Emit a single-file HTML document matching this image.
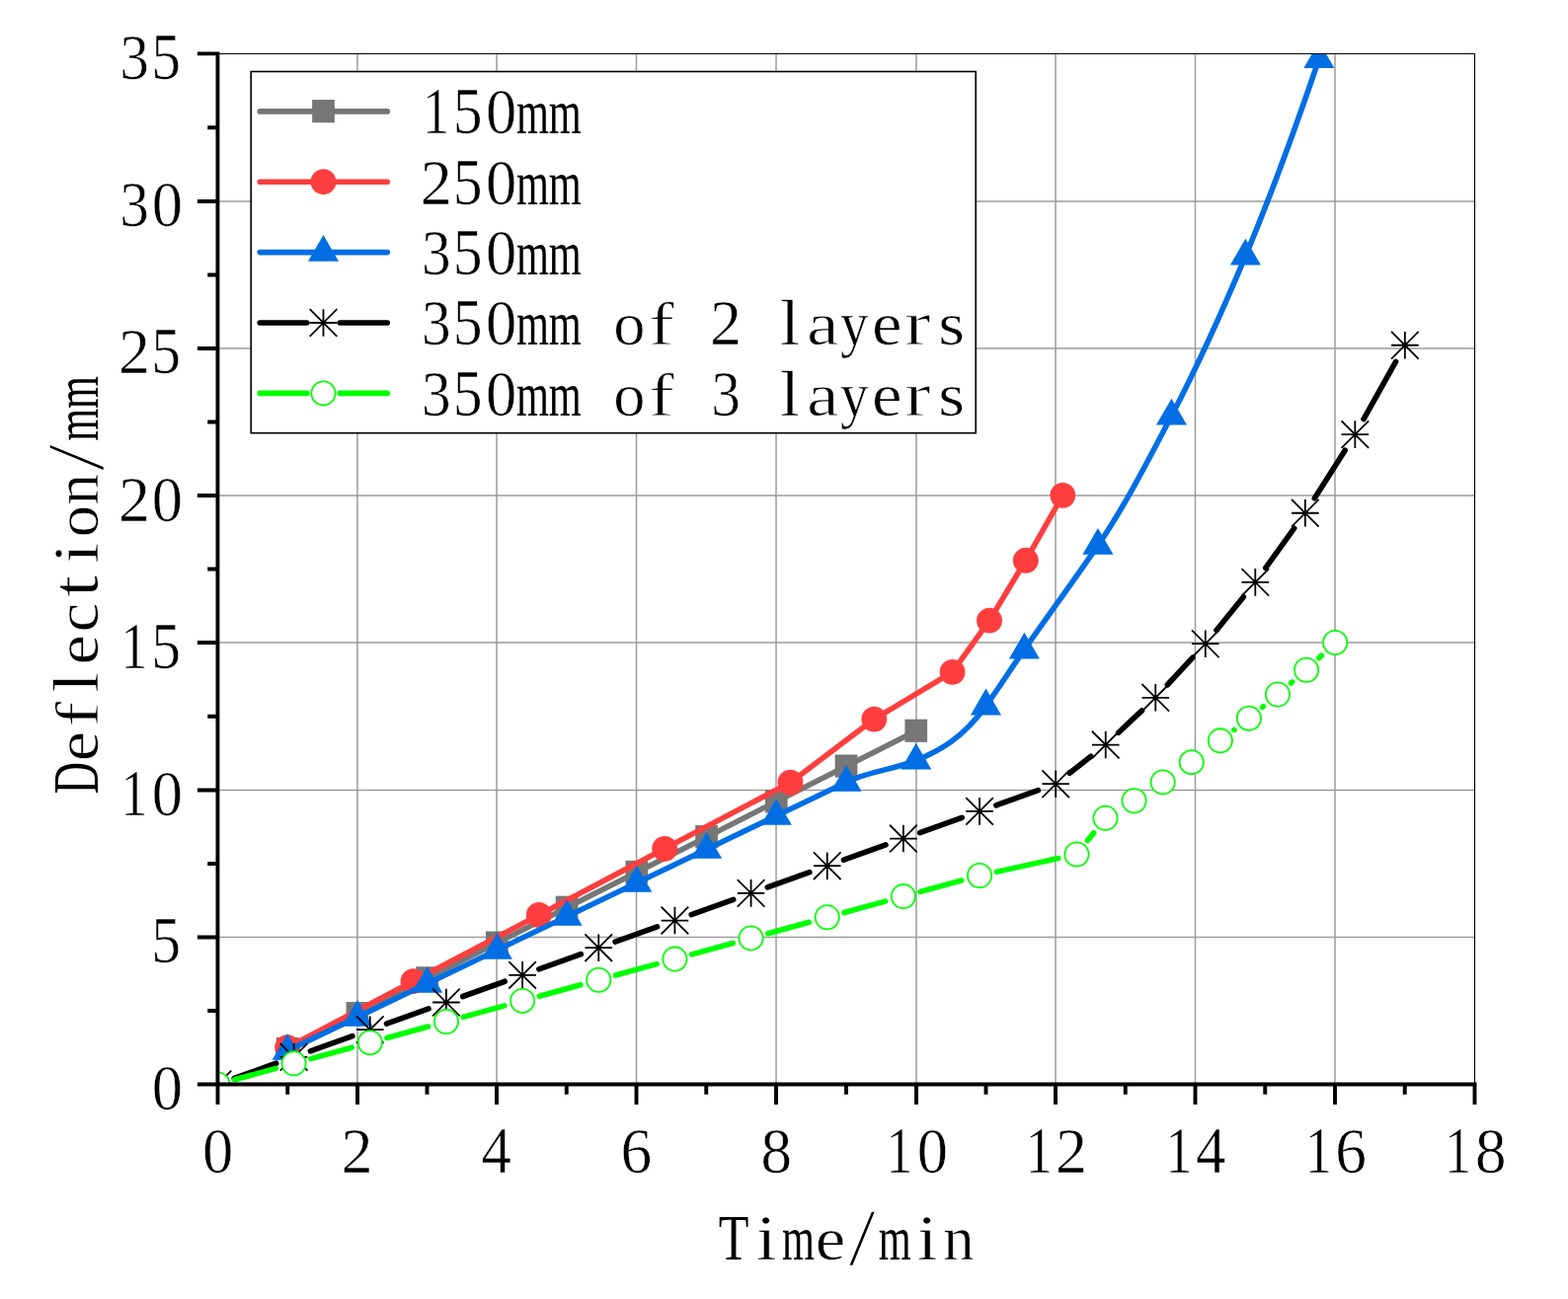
<!DOCTYPE html>
<html lang="en"><head><meta charset="utf-8"><title>Deflection vs Time</title>
<style>html,body{margin:0;padding:0;background:#fff}svg{display:block}text{font-family:"Liberation Serif",serif;fill:#000;stroke:#fff;stroke-width:0.6px;paint-order:fill stroke}</style>
</head><body>
<svg width="1588" height="1316" viewBox="0 0 1588 1316">
<rect width="1588" height="1316" fill="#fff"/>
<defs><clipPath id="plot"><rect x="220.45" y="54.4" width="1273.15" height="1044.1"/></clipPath></defs>
<path d="M362 54.4V1098.5M503 54.4V1098.5M644.5 54.4V1098.5M786 54.4V1098.5M928 54.4V1098.5M1069 54.4V1098.5M1210.5 54.4V1098.5M1352 54.4V1098.5M220.45 949.5H1493.6M220.45 800.5H1493.6M220.45 651H1493.6M220.45 502H1493.6M220.45 353H1493.6M220.45 204H1493.6" stroke="#9c9c9c" stroke-width="1.5" fill="none"/>
<g clip-path="url(#plot)">
<path d="M291.18 1062.7L361.91 1026.9L432.64 991.11L503.37 955.31L574.1 919.51L644.83 883.71L715.56 847.92L786.29 812.12L857.02 776.32L927.76 740.52" stroke="#767676" stroke-width="5.6" fill="none" stroke-linejoin="round" stroke-linecap="round"/>
<g fill="#767676"><rect x="279.83" y="1050.85" width="22.7" height="23.2"/><rect x="350.56" y="1015.05" width="22.7" height="23.2"/><rect x="421.29" y="979.26" width="22.7" height="23.2"/><rect x="492.02" y="943.46" width="22.7" height="23.2"/><rect x="562.75" y="907.66" width="22.7" height="23.2"/><rect x="633.48" y="871.86" width="22.7" height="23.2"/><rect x="704.21" y="836.07" width="22.7" height="23.2"/><rect x="774.94" y="800.27" width="22.7" height="23.2"/><rect x="845.67" y="764.47" width="22.7" height="23.2"/><rect x="916.41" y="728.67" width="22.7" height="23.2"/></g>
<path d="M291.18 1061.21L418.5 994.09L545.81 926.97L673.13 859.85L800.44 792.73L885.32 728.59L964.54 680.86L1002.02 628.66L1038.8 567.8L1076.29 501.87" stroke="#fe3e3e" stroke-width="5.6" fill="none" stroke-linejoin="round" stroke-linecap="round"/>
<g fill="#fe3e3e"><circle cx="291.18" cy="1061.21" r="12.95"/><circle cx="418.5" cy="994.09" r="12.95"/><circle cx="545.81" cy="926.97" r="12.95"/><circle cx="673.13" cy="859.85" r="12.95"/><circle cx="800.44" cy="792.73" r="12.95"/><circle cx="885.32" cy="728.59" r="12.95"/><circle cx="964.54" cy="680.86" r="12.95"/><circle cx="1002.02" cy="628.66" r="12.95"/><circle cx="1038.8" cy="567.8" r="12.95"/><circle cx="1076.29" cy="501.87" r="12.95"/></g>
<path d="M291.18 1064.49C314.76 1053.16 338.33 1041.82 361.91 1030.48C385.49 1019.15 409.06 1007.81 432.64 996.48C456.22 985.14 479.8 973.8 503.37 962.47C526.95 951.13 550.53 939.8 574.1 928.46C597.68 917.12 621.26 905.79 644.83 894.45C668.41 883.12 691.99 871.78 715.56 860.45C739.14 849.11 762.72 837.77 786.29 826.44C809.87 815.1 833.45 803.77 857.02 792.43C880.6 781.09 904.18 779.9 927.76 770.35C951.33 760.81 974.91 748.19 998.49 715.17C1011.45 697 1024.42 676.77 1037.39 658.19C1062.24 622.59 1087.09 588.7 1111.94 552.58C1136.79 516.47 1161.64 469.07 1186.49 421.33C1211.46 373.36 1236.42 318.98 1261.39 259.34C1286.22 200.04 1311.04 132.71 1335.87 59.77" stroke="#026ee4" stroke-width="5.6" fill="none" stroke-linejoin="round" stroke-linecap="round"/>
<path d="M291.18 1046.94L306.73 1073.74L275.63 1073.74ZM361.91 1012.93L377.46 1039.73L346.36 1039.73ZM432.64 978.93L448.19 1005.73L417.09 1005.73ZM503.37 944.92L518.92 971.72L487.82 971.72ZM574.1 910.91L589.65 937.71L558.55 937.71ZM644.83 876.9L660.38 903.7L629.28 903.7ZM715.56 842.9L731.11 869.7L700.01 869.7ZM786.29 808.89L801.84 835.69L770.74 835.69ZM857.02 774.88L872.57 801.68L841.47 801.68ZM927.76 752.8L943.31 779.6L912.21 779.6ZM998.49 697.62L1014.04 724.42L982.94 724.42ZM1037.39 640.64L1052.94 667.44L1021.84 667.44ZM1111.94 535.03L1127.49 561.83L1096.39 561.83ZM1186.49 403.78L1202.04 430.58L1170.94 430.58ZM1261.39 241.79L1276.94 268.59L1245.84 268.59ZM1335.87 42.22L1351.42 69.02L1320.32 69.02Z" fill="#026ee4"/>
<path d="M237.21 1092.49L279.73 1077.25M314.37 1064.83L356.89 1049.59M391.53 1037.17L434.05 1021.93M468.69 1009.51L511.21 994.26M545.85 981.85L588.37 966.6M623.01 954.18L665.53 938.94M700.17 926.52L742.69 911.28M777.33 898.86L819.85 883.62M854.49 871.2L897.01 855.96M931.65 843.54L974.17 828.29M1008.81 815.87L1051.33 800.63M1083.22 783.23L1104.8 766.28M1132.68 742.32L1156.45 719.86M1182.35 693.75L1207.88 666.17M1231.99 638.39L1259.34 604.64M1281.71 575.43L1310.72 535.18M1331.36 504.74L1362.17 456.16M1381.03 424.58L1413.6 366.32" stroke="#000" stroke-width="5.6" fill="none" stroke-linecap="round"/>
<path d="M206.65 1098.5H234.25M220.45 1084.7V1112.3M206.65 1084.7L234.25 1112.3M206.65 1112.3L234.25 1084.7M283.81 1070.84H311.41M297.61 1057.04V1084.64M283.81 1057.04L311.41 1084.64M283.81 1084.64L311.41 1057.04M360.97 1043.18H388.57M374.77 1029.38V1056.98M360.97 1029.38L388.57 1056.98M360.97 1056.98L388.57 1029.38M438.13 1015.51H465.73M451.93 1001.71V1029.31M438.13 1001.71L465.73 1029.31M438.13 1029.31L465.73 1001.71M515.29 987.85H542.89M529.09 974.05V1001.65M515.29 974.05L542.89 1001.65M515.29 1001.65L542.89 974.05M592.45 960.19H620.05M606.25 946.39V973.99M592.45 946.39L620.05 973.99M592.45 973.99L620.05 946.39M669.61 932.53H697.21M683.41 918.73V946.33M669.61 918.73L697.21 946.33M669.61 946.33L697.21 918.73M746.77 904.87H774.37M760.57 891.07V918.67M746.77 891.07L774.37 918.67M746.77 918.67L774.37 891.07M823.93 877.21H851.53M837.73 863.41V891.01M823.93 863.41L851.53 891.01M823.93 891.01L851.53 863.41M901.1 849.54H928.7M914.9 835.74V863.34M901.1 835.74L928.7 863.34M901.1 863.34L928.7 835.74M978.26 821.88H1005.86M992.06 808.08V835.68M978.26 808.08L1005.86 835.68M978.26 835.68L1005.86 808.08M1055.42 794.22H1083.02M1069.22 780.42V808.02M1055.42 780.42L1083.02 808.02M1055.42 808.02L1083.02 780.42M1105.94 754.54H1133.54M1119.74 740.74V768.34M1105.94 740.74L1133.54 768.34M1105.94 768.34L1133.54 740.74M1156.46 706.81H1184.06M1170.26 693.01V720.61M1156.46 693.01L1184.06 720.61M1156.46 720.61L1184.06 693.01M1206.98 652.22H1234.58M1220.78 638.42V666.02M1206.98 638.42L1234.58 666.02M1206.98 666.02L1234.58 638.42M1257.5 589.87H1285.1M1271.3 576.07V603.67M1257.5 576.07L1285.1 603.67M1257.5 603.67L1285.1 576.07M1308.03 519.77H1335.63M1321.83 505.97V533.57M1308.03 505.97L1335.63 533.57M1308.03 533.57L1335.63 505.97M1358.55 440.12H1386.15M1372.35 426.32V453.92M1358.55 426.32L1386.15 453.92M1358.55 453.92L1386.15 426.32M1409.07 349.73H1436.67M1422.87 335.93V363.53M1409.07 335.93L1436.67 363.53M1409.07 363.53L1436.67 335.93" stroke="#000" stroke-width="1.8" fill="none"/>
<path d="M237.62 1093.79L279.29 1082.37M314.78 1072.64L356.45 1061.22M391.94 1051.49L433.61 1040.06M469.1 1030.33L510.77 1018.91M546.26 1009.18L587.93 997.76M623.42 988.03L665.09 976.6M700.58 966.87L742.25 955.45M777.74 945.72L819.41 934.3M854.9 924.57L896.57 913.14M932.06 903.42L973.73 891.99M1009.45 883.18L1071.87 869.56M1101.49 851.57L1107.71 843.71M1249.86 739.42L1249.92 739.38M1278.59 716.32L1279.37 715.68M1307.54 691.99L1308.59 691.09M1335.94 666.48L1338.39 664.14" stroke="#00ff00" stroke-width="5.6" fill="none" stroke-linecap="round"/>
<g fill="#fff" stroke="#00ff00" stroke-width="1.8"><circle cx="220.45" cy="1098.5" r="12.1"/><circle cx="297.61" cy="1077.35" r="12.1"/><circle cx="374.77" cy="1056.19" r="12.1"/><circle cx="451.93" cy="1035.04" r="12.1"/><circle cx="529.09" cy="1013.89" r="12.1"/><circle cx="606.25" cy="992.73" r="12.1"/><circle cx="683.41" cy="971.58" r="12.1"/><circle cx="760.57" cy="950.43" r="12.1"/><circle cx="837.73" cy="929.27" r="12.1"/><circle cx="914.9" cy="908.12" r="12.1"/><circle cx="992.06" cy="886.97" r="12.1"/><circle cx="1090.44" cy="865.52" r="12.1"/><circle cx="1119.51" cy="828.82" r="12.1"/><circle cx="1148.59" cy="811.22" r="12.1"/><circle cx="1177.67" cy="792.43" r="12.1"/><circle cx="1206.75" cy="772.14" r="12.1"/><circle cx="1235.83" cy="750.37" r="12.1"/><circle cx="1264.9" cy="727.7" r="12.1"/><circle cx="1293.98" cy="703.53" r="12.1"/><circle cx="1323.06" cy="678.77" r="12.1"/><circle cx="1352.14" cy="651.03" r="12.1"/></g>
</g>
<path d="M220.45 54.5H1493.5V1098.5" stroke="#000" stroke-width="1.15" fill="none"/>
<path d="M220.45 52.45V1100.45M218.5 1098.5H1495.55M220.5 1098.5V1119M291.25 1098.5V1108.7M362 1098.5V1119M432.5 1098.5V1108.7M503 1098.5V1119M573.75 1098.5V1108.7M644.5 1098.5V1119M715.25 1098.5V1108.7M786 1098.5V1119M857 1098.5V1108.7M928 1098.5V1119M998.5 1098.5V1108.7M1069 1098.5V1119M1139.75 1098.5V1108.7M1210.5 1098.5V1119M1281.25 1098.5V1108.7M1352 1098.5V1119M1422.75 1098.5V1108.7M1493.5 1098.5V1119M220.45 1098.5H199.95M220.45 1024H210.25M220.45 949.5H199.95M220.45 875H210.25M220.45 800.5H199.95M220.45 725.75H210.25M220.45 651H199.95M220.45 576.5H210.25M220.45 502H199.95M220.45 427.5H210.25M220.45 353H199.95M220.45 278.5H210.25M220.45 204H199.95M220.45 129.2H210.25M220.45 54.4H199.95" stroke="#000" stroke-width="3.9" fill="none"/>
<text xml:space="preserve"><tspan x="205.07" y="1187.9" font-size="66.16" textLength="31.26" lengthAdjust="spacingAndGlyphs">0</tspan></text>
<text xml:space="preserve"><tspan x="345.49" y="1187.9" font-size="66.15" textLength="32.05" lengthAdjust="spacingAndGlyphs">2</tspan></text>
<text xml:space="preserve"><tspan x="487.38" y="1187.9" font-size="67.15" textLength="30.44" lengthAdjust="spacingAndGlyphs">4</tspan></text>
<text xml:space="preserve"><tspan x="628.61" y="1187.9" font-size="66.15" textLength="31.71" lengthAdjust="spacingAndGlyphs">6</tspan></text>
<text xml:space="preserve"><tspan x="770.4" y="1187.9" font-size="65.86" textLength="31.5" lengthAdjust="spacingAndGlyphs">8</tspan></text>
<text xml:space="preserve"><tspan x="897.26" y="1187.9" font-size="66.95" textLength="27.27" lengthAdjust="spacingAndGlyphs">1</tspan><tspan x="928.67" y="1187.9" font-size="66.16" textLength="31.26" lengthAdjust="spacingAndGlyphs">0</tspan></text>
<text xml:space="preserve"><tspan x="1038.72" y="1187.9" font-size="66.95" textLength="27.27" lengthAdjust="spacingAndGlyphs">1</tspan><tspan x="1069.1" y="1187.9" font-size="66.15" textLength="32.05" lengthAdjust="spacingAndGlyphs">2</tspan></text>
<text xml:space="preserve"><tspan x="1180.18" y="1187.9" font-size="66.95" textLength="27.27" lengthAdjust="spacingAndGlyphs">1</tspan><tspan x="1210.99" y="1187.9" font-size="67.15" textLength="30.44" lengthAdjust="spacingAndGlyphs">4</tspan></text>
<text xml:space="preserve"><tspan x="1321.65" y="1187.9" font-size="66.95" textLength="27.27" lengthAdjust="spacingAndGlyphs">1</tspan><tspan x="1352.21" y="1187.9" font-size="66.15" textLength="31.71" lengthAdjust="spacingAndGlyphs">6</tspan></text>
<text xml:space="preserve"><tspan x="1463.11" y="1187.9" font-size="66.95" textLength="27.27" lengthAdjust="spacingAndGlyphs">1</tspan><tspan x="1494" y="1187.9" font-size="65.86" textLength="31.5" lengthAdjust="spacingAndGlyphs">8</tspan></text>
<text xml:space="preserve"><tspan x="153.72" y="1124.2" font-size="66.16" textLength="31.26" lengthAdjust="spacingAndGlyphs">0</tspan></text>
<text xml:space="preserve"><tspan x="153.14" y="975.04" font-size="66.59" textLength="29.79" lengthAdjust="spacingAndGlyphs">5</tspan></text>
<text xml:space="preserve"><tspan x="122.31" y="825.89" font-size="66.95" textLength="27.27" lengthAdjust="spacingAndGlyphs">1</tspan><tspan x="153.72" y="825.89" font-size="66.16" textLength="31.26" lengthAdjust="spacingAndGlyphs">0</tspan></text>
<text xml:space="preserve"><tspan x="122.31" y="676.73" font-size="66.95" textLength="27.27" lengthAdjust="spacingAndGlyphs">1</tspan><tspan x="153.14" y="676.73" font-size="66.59" textLength="29.79" lengthAdjust="spacingAndGlyphs">5</tspan></text>
<text xml:space="preserve"><tspan x="120.08" y="527.57" font-size="66.15" textLength="32.05" lengthAdjust="spacingAndGlyphs">2</tspan><tspan x="153.72" y="527.57" font-size="66.16" textLength="31.26" lengthAdjust="spacingAndGlyphs">0</tspan></text>
<text xml:space="preserve"><tspan x="120.08" y="378.41" font-size="66.15" textLength="32.05" lengthAdjust="spacingAndGlyphs">2</tspan><tspan x="153.14" y="378.41" font-size="66.59" textLength="29.79" lengthAdjust="spacingAndGlyphs">5</tspan></text>
<text xml:space="preserve"><tspan x="121.36" y="229.26" font-size="66.15" textLength="29.65" lengthAdjust="spacingAndGlyphs">3</tspan><tspan x="153.72" y="229.26" font-size="66.16" textLength="31.26" lengthAdjust="spacingAndGlyphs">0</tspan></text>
<text xml:space="preserve"><tspan x="121.36" y="80.1" font-size="66.15" textLength="29.65" lengthAdjust="spacingAndGlyphs">3</tspan><tspan x="153.14" y="80.1" font-size="66.59" textLength="29.79" lengthAdjust="spacingAndGlyphs">5</tspan></text>
<text xml:space="preserve"><tspan x="727.69" y="1276.05" font-size="66.28" textLength="30.64" lengthAdjust="spacingAndGlyphs" stroke-width="0">T</tspan><tspan x="765.97" y="1276.05" font-size="66.45" textLength="20.31" lengthAdjust="spacingAndGlyphs">i</tspan><tspan x="791.91" y="1276.05" font-size="63.24" textLength="32.95" lengthAdjust="spacingAndGlyphs" stroke-width="0">m</tspan><tspan x="825.85" y="1276.05" font-size="61.33" textLength="30.49" lengthAdjust="spacingAndGlyphs">e</tspan><tspan x="859.2" y="1280.75" font-size="81.62" textLength="27.7" lengthAdjust="spacingAndGlyphs" stroke-width="1.5">/</tspan><tspan x="889.71" y="1276.05" font-size="63.24" textLength="32.95" lengthAdjust="spacingAndGlyphs" stroke-width="0">m</tspan><tspan x="928.97" y="1276.05" font-size="66.45" textLength="20.31" lengthAdjust="spacingAndGlyphs">i</tspan><tspan x="955.36" y="1276.05" font-size="63.24" textLength="31.39" lengthAdjust="spacingAndGlyphs">n</tspan></text>
<text transform="translate(99.1 804.8) rotate(-90)" xml:space="preserve"><tspan x="0.51" y="0" font-size="66.43" textLength="32.39" lengthAdjust="spacingAndGlyphs" stroke-width="0">D</tspan><tspan x="33.45" y="0" font-size="61.33" textLength="30.49" lengthAdjust="spacingAndGlyphs">e</tspan><tspan x="68.3" y="0" font-size="61.78" textLength="25.72" lengthAdjust="spacingAndGlyphs" stroke-width="0.85">f</tspan><tspan x="103.39" y="0" font-size="65.86" textLength="20.13" lengthAdjust="spacingAndGlyphs">l</tspan><tspan x="131.25" y="0" font-size="61.33" textLength="30.49" lengthAdjust="spacingAndGlyphs">e</tspan><tspan x="164.43" y="0" font-size="61.33" textLength="29.94" lengthAdjust="spacingAndGlyphs">c</tspan><tspan x="199.72" y="0" font-size="68.03" textLength="22.25" lengthAdjust="spacingAndGlyphs" stroke-width="0.85">t</tspan><tspan x="234.37" y="0" font-size="66.45" textLength="20.31" lengthAdjust="spacingAndGlyphs">i</tspan><tspan x="260.65" y="0" font-size="61.33" textLength="32.21" lengthAdjust="spacingAndGlyphs">o</tspan><tspan x="293.36" y="0" font-size="63.24" textLength="31.39" lengthAdjust="spacingAndGlyphs">n</tspan><tspan x="327.6" y="4.7" font-size="81.62" textLength="27.7" lengthAdjust="spacingAndGlyphs" stroke-width="1.5">/</tspan><tspan x="358.11" y="0" font-size="63.24" textLength="32.95" lengthAdjust="spacingAndGlyphs" stroke-width="0">m</tspan><tspan x="390.71" y="0" font-size="63.24" textLength="32.95" lengthAdjust="spacingAndGlyphs" stroke-width="0">m</tspan></text>
<rect x="254.2" y="72.5" width="734" height="366.2" fill="#fff" stroke="#000" stroke-width="1.6"/>
<path d="M263.2 112.9H392.3" stroke="#767676" stroke-width="5.6" stroke-linecap="round" fill="none"/>
<g fill="#767676"><rect x="316.15" y="101.05" width="22.7" height="23.2"/></g>
<text xml:space="preserve"><tspan x="427.91" y="135.1" font-size="66.95" textLength="27.27" lengthAdjust="spacingAndGlyphs">1</tspan><tspan x="458.74" y="135.1" font-size="66.59" textLength="29.79" lengthAdjust="spacingAndGlyphs">5</tspan><tspan x="491.92" y="135.1" font-size="66.16" textLength="31.26" lengthAdjust="spacingAndGlyphs">0</tspan><tspan x="523.11" y="135.1" font-size="63.24" textLength="32.95" lengthAdjust="spacingAndGlyphs" stroke-width="0">m</tspan><tspan x="555.71" y="135.1" font-size="63.24" textLength="32.95" lengthAdjust="spacingAndGlyphs" stroke-width="0">m</tspan></text>
<path d="M263.2 184.2H392.3" stroke="#fe3e3e" stroke-width="5.6" stroke-linecap="round" fill="none"/>
<g fill="#fe3e3e"><circle cx="327.5" cy="184.2" r="12.95"/></g>
<text xml:space="preserve"><tspan x="425.68" y="206.9" font-size="66.15" textLength="32.05" lengthAdjust="spacingAndGlyphs">2</tspan><tspan x="458.74" y="206.9" font-size="66.59" textLength="29.79" lengthAdjust="spacingAndGlyphs">5</tspan><tspan x="491.92" y="206.9" font-size="66.16" textLength="31.26" lengthAdjust="spacingAndGlyphs">0</tspan><tspan x="523.11" y="206.9" font-size="63.24" textLength="32.95" lengthAdjust="spacingAndGlyphs" stroke-width="0">m</tspan><tspan x="555.71" y="206.9" font-size="63.24" textLength="32.95" lengthAdjust="spacingAndGlyphs" stroke-width="0">m</tspan></text>
<path d="M263.2 255.6H392.3" stroke="#026ee4" stroke-width="5.6" stroke-linecap="round" fill="none"/>
<path d="M327.5 238.05L343.05 264.85L311.95 264.85Z" fill="#026ee4"/>
<text xml:space="preserve"><tspan x="426.96" y="278.4" font-size="66.15" textLength="29.65" lengthAdjust="spacingAndGlyphs">3</tspan><tspan x="458.74" y="278.4" font-size="66.59" textLength="29.79" lengthAdjust="spacingAndGlyphs">5</tspan><tspan x="491.92" y="278.4" font-size="66.16" textLength="31.26" lengthAdjust="spacingAndGlyphs">0</tspan><tspan x="523.11" y="278.4" font-size="63.24" textLength="32.95" lengthAdjust="spacingAndGlyphs" stroke-width="0">m</tspan><tspan x="555.71" y="278.4" font-size="63.24" textLength="32.95" lengthAdjust="spacingAndGlyphs" stroke-width="0">m</tspan></text>
<path d="M263.2 327H310.8M344.2 327H392.3" stroke="#000" stroke-width="5.6" stroke-linecap="round" fill="none"/>
<path d="M313.7 327H341.3M327.5 313.2V340.8M313.7 313.2L341.3 340.8M313.7 340.8L341.3 313.2" stroke="#000" stroke-width="1.8" fill="none"/>
<text xml:space="preserve"><tspan x="426.96" y="348.9" font-size="66.15" textLength="29.65" lengthAdjust="spacingAndGlyphs">3</tspan><tspan x="458.74" y="348.9" font-size="66.59" textLength="29.79" lengthAdjust="spacingAndGlyphs">5</tspan><tspan x="491.92" y="348.9" font-size="66.16" textLength="31.26" lengthAdjust="spacingAndGlyphs">0</tspan><tspan x="523.11" y="348.9" font-size="63.24" textLength="32.95" lengthAdjust="spacingAndGlyphs" stroke-width="0">m</tspan><tspan x="555.71" y="348.9" font-size="63.24" textLength="32.95" lengthAdjust="spacingAndGlyphs" stroke-width="0">m</tspan> <tspan x="621.25" y="348.9" font-size="61.33" textLength="32.21" lengthAdjust="spacingAndGlyphs">o</tspan><tspan x="657.1" y="348.9" font-size="61.78" textLength="25.72" lengthAdjust="spacingAndGlyphs" stroke-width="0.85">f</tspan> <tspan x="719.08" y="348.9" font-size="66.15" textLength="32.05" lengthAdjust="spacingAndGlyphs">2</tspan> <tspan x="789.99" y="348.9" font-size="65.86" textLength="20.13" lengthAdjust="spacingAndGlyphs">l</tspan><tspan x="817.02" y="348.9" font-size="61.59" textLength="32.58" lengthAdjust="spacingAndGlyphs" stroke-width="0.85">a</tspan><tspan x="851" y="348.9" font-size="62.53" textLength="28.62" lengthAdjust="spacingAndGlyphs">y</tspan><tspan x="883.05" y="348.9" font-size="61.33" textLength="30.49" lengthAdjust="spacingAndGlyphs">e</tspan><tspan x="916.34" y="348.9" font-size="63.03" textLength="26.24" lengthAdjust="spacingAndGlyphs" stroke-width="0.85">r</tspan><tspan x="950.27" y="348.9" font-size="61.33" textLength="26.73" lengthAdjust="spacingAndGlyphs">s</tspan></text>
<path d="M263.2 398.4H310.8M344.2 398.4H392.3" stroke="#00ff00" stroke-width="5.6" stroke-linecap="round" fill="none"/>
<g fill="#fff" stroke="#00ff00" stroke-width="1.8"><circle cx="327.5" cy="398.4" r="12.1"/></g>
<text xml:space="preserve"><tspan x="426.96" y="421.4" font-size="66.15" textLength="29.65" lengthAdjust="spacingAndGlyphs">3</tspan><tspan x="458.74" y="421.4" font-size="66.59" textLength="29.79" lengthAdjust="spacingAndGlyphs">5</tspan><tspan x="491.92" y="421.4" font-size="66.16" textLength="31.26" lengthAdjust="spacingAndGlyphs">0</tspan><tspan x="523.11" y="421.4" font-size="63.24" textLength="32.95" lengthAdjust="spacingAndGlyphs" stroke-width="0">m</tspan><tspan x="555.71" y="421.4" font-size="63.24" textLength="32.95" lengthAdjust="spacingAndGlyphs" stroke-width="0">m</tspan> <tspan x="621.25" y="421.4" font-size="61.33" textLength="32.21" lengthAdjust="spacingAndGlyphs">o</tspan><tspan x="657.1" y="421.4" font-size="61.78" textLength="25.72" lengthAdjust="spacingAndGlyphs" stroke-width="0.85">f</tspan> <tspan x="720.36" y="421.4" font-size="66.15" textLength="29.65" lengthAdjust="spacingAndGlyphs">3</tspan> <tspan x="789.99" y="421.4" font-size="65.86" textLength="20.13" lengthAdjust="spacingAndGlyphs">l</tspan><tspan x="817.02" y="421.4" font-size="61.59" textLength="32.58" lengthAdjust="spacingAndGlyphs" stroke-width="0.85">a</tspan><tspan x="851" y="421.4" font-size="62.53" textLength="28.62" lengthAdjust="spacingAndGlyphs">y</tspan><tspan x="883.05" y="421.4" font-size="61.33" textLength="30.49" lengthAdjust="spacingAndGlyphs">e</tspan><tspan x="916.34" y="421.4" font-size="63.03" textLength="26.24" lengthAdjust="spacingAndGlyphs" stroke-width="0.85">r</tspan><tspan x="950.27" y="421.4" font-size="61.33" textLength="26.73" lengthAdjust="spacingAndGlyphs">s</tspan></text>
</svg>
</body></html>
